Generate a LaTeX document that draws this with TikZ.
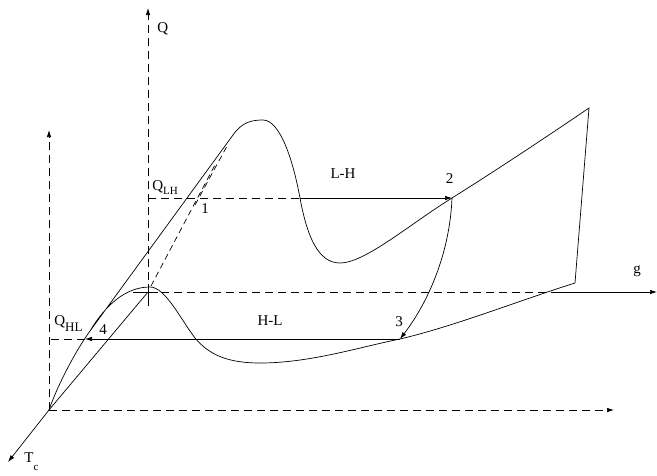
\documentclass[tikz,border=0pt]{standalone}
\usepackage{fontspec}
\setmainfont{Liberation Serif}
\usetikzlibrary{arrows.meta}
\begin{document}
\begin{tikzpicture}[x=1pt,y=-1pt,line width=0.7pt,
  dsh/.style={dash pattern=on 8pt off 5pt},
  arr/.style={-{Latex[length=7pt,width=4.5pt]}},
  lbl/.style={inner sep=0pt,anchor=base,font=\fontsize{15}{18}\selectfont},
  lblw/.style={inner sep=0pt,anchor=base west,font=\fontsize{15}{18}\selectfont}]
\useasboundingbox (0,0) rectangle (657,475);
% key points
\coordinate (O) at (49,410);
\coordinate (Otop) at (49,130);
\coordinate (Tc) at (8,462);
\coordinate (Bend) at (614,410);
\coordinate (P) at (148,292);
\coordinate (Qtop) at (148,8);
\coordinate (Qbot) at (148,306);
\coordinate (gS) at (553,292);
\coordinate (gEnd) at (657,292);
\coordinate (J) at (90,331);
\coordinate (A) at (233,135);
\coordinate (pk) at (263,120);
\coordinate (X1) at (300,198);
\coordinate (V1) at (340,263);
\coordinate (p2) at (452,198);
\coordinate (C) at (589,108);
\coordinate (D) at (575,283);
\coordinate (p3) at (400,339);
\coordinate (V2) at (260,363);
\coordinate (M) at (195,338);
\coordinate (pk2) at (150,287);
\coordinate (LHs) at (148,198);
\coordinate (HLe) at (85,339);
\coordinate (HLs) at (49,339);
% axes
\draw[dsh,arr] (O) -- (Otop);
\draw[arr] (O) -- (Tc);
\draw[dsh,arr] (O) -- (Bend);
\draw[dsh,arr] (Qbot) -- (Qtop);
\draw[dsh] (P) -- (gS);
\draw[arr] (gS) -- (gEnd);
\draw (O) -- (P);
\draw (133,292) -- (158,292);
\draw (148,284) -- (148,306);
% surface
\draw (O) .. controls (55,392) and (72,356) .. (J) -- (A)
  .. controls (242,122) and (252,120) .. (pk)
  .. controls (280,120) and (293,160) .. (X1)
  .. controls (307,236) and (318,263) .. (V1)
  .. controls (365,263) and (410,224) .. (p2)
  .. controls (495,171) and (545,138) .. (C) -- (D)
  .. controls (515,302) and (455,326) .. (p3)
  .. controls (360,347) and (310,363) .. (V2)
  .. controls (230,363) and (210,356) .. (M)
  .. controls (180,318) and (165,287) .. (pk2)
  .. controls (125,287) and (105,306) .. (J);
% hidden lines
\draw[dash pattern=on 6pt off 4pt] (151,286) -- (216,163);
\draw[dash pattern=on 6pt off 4pt] (195,205) -- (227,146);
% process arrows
\draw[dsh] (LHs) -- (X1);
\draw[arr] (X1) -- (p2);
\draw[arr] (p3) -- (HLe);
\draw[dsh] (HLe) -- (HLs);
\draw[arr] (p2) .. controls (450,250) and (430,300) .. (p3);
% labels
\node[lblw] (lQ) at (157,32) {Q};
\node[lblw] (lQLH) at (152,190) {Q\raisebox{-4pt}{\fontsize{11}{13}\selectfont LH}};
\node[lbl] (l1) at (205,213) {1};
\node[lbl] (lLH) at (343,178) {L-H};
\node[lbl] (l2) at (449.5,183) {2};
\node[lbl] (l3) at (399,326) {3};
\node[lbl] (lHL) at (270,325) {H-L};
\node[lblw] (lQHL) at (54,325) {Q\raisebox{-6pt}{\fontsize{13}{15}\selectfont HL}};
\node[lbl] (l4) at (103,334) {4};
\node[lbl] (lg) at (637,273) {g};
\node[lblw] (lTc) at (24,462) {T\raisebox{-8pt}{\fontsize{11}{13}\selectfont c}};
\end{tikzpicture}
\end{document}
